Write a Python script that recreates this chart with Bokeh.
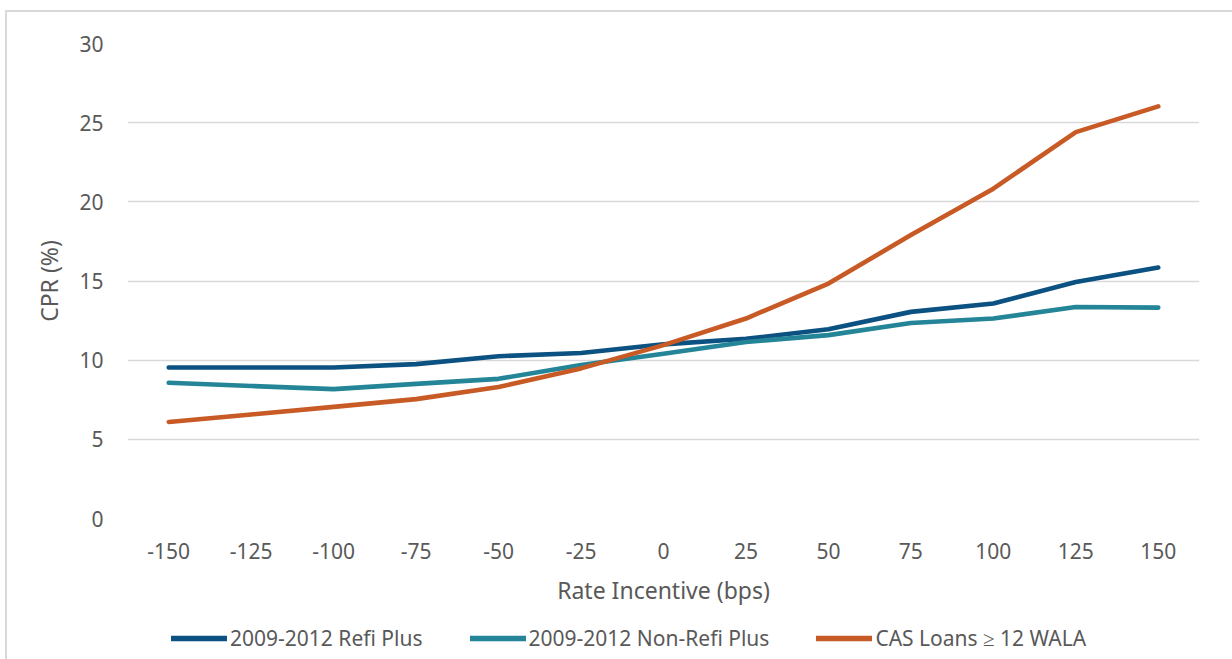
from bokeh.plotting import figure
from bokeh.layouts import column
from bokeh.models import FactorRange, Range1d, Legend, LegendItem, SingleIntervalTicker
from bokeh.embed import file_html
from bokeh.resources import INLINE

# Rate incentive buckets (bps)
incentive = ["-150", "-125", "-100", "-75", "-50", "-25", "0",
             "25", "50", "75", "100", "125", "150"]

# CPR (%) by rate incentive
refi_plus = [9.54, 9.54, 9.54, 9.75, 10.25, 10.45, 11.0, 11.35, 11.95, 13.05, 13.58, 14.94, 15.85]
non_refi_plus = [8.57, 8.37, 8.17, 8.5, 8.82, 9.7, 10.4, 11.15, 11.58, 12.35, 12.63, 13.36, 13.32]
cas_loans = [6.1, 6.57, 7.05, 7.54, 8.3, 9.48, 10.95, 12.63, 14.84, 17.9, 20.83, 24.4, 26.03]

series = [refi_plus, non_refi_plus, cas_loans]
series_names = ["2009-2012 Refi Plus", "2009-2012 Non-Refi Plus", "CAS Loans \u2265 12 WALA"]
series_colors = ["#0b5181", "#238597", "#c85a25"]

FONT = "Noto Sans"
TEXT = "#595959"
LINE_W = 4.6

p = figure(
    width=1225, height=600,
    x_range=FactorRange(*incentive, range_padding=0),
    y_range=Range1d(0, 30),
    output_backend="svg", toolbar_location=None,
    min_border_left=120, min_border_right=33,
    min_border_top=31, min_border_bottom=94,
)
p.outline_line_color = None
p.background_fill_color = "white"
p.border_fill_color = "white"

for vals, color in zip(series, series_colors):
    p.line(incentive, vals, line_color=color, line_width=LINE_W,
           line_cap="round", line_join="round")

# grid
p.xgrid.grid_line_color = None
p.ygrid.grid_line_color = "#d9d9d9"
p.ygrid.grid_line_width = 1.6
p.yaxis.ticker = SingleIntervalTicker(interval=5)

for ax in (p.xaxis[0], p.yaxis[0]):
    ax.axis_line_color = None
    ax.major_tick_line_color = None
    ax.minor_tick_line_color = None
    ax.major_label_text_font = FONT
    ax.major_label_text_font_size = "21px"
    ax.major_label_text_color = TEXT
    ax.axis_label_text_font = FONT
    ax.axis_label_text_font_size = "23px"
    ax.axis_label_text_font_style = "normal"
    ax.axis_label_text_color = TEXT

p.yaxis.axis_label = "CPR (%)"
p.yaxis.major_label_standoff = 18
p.yaxis.axis_label_standoff = 11
p.xaxis.axis_label = "Rate Incentive (bps)"
p.xaxis.major_label_standoff = 18
p.xaxis.axis_label_standoff = 12

# legend strip below the chart (its frame lines up with the chart frame)
leg = figure(
    width=1225, height=47,
    x_range=Range1d(0, 1), y_range=Range1d(0, 1),
    output_backend="svg", toolbar_location=None,
    min_border=0,
)
leg.axis.visible = False
leg.grid.visible = False
leg.outline_line_color = None
leg.border_fill_color = "white"

# one-point lines: nothing is drawn in the strip, only the legend keys
key_renderers = [leg.line(x=[0], y=[vals[0]], line_color=c, line_width=5.5, line_cap="round")
                 for vals, c in zip(series, series_colors)]
legend = Legend(
    items=[LegendItem(label=n, renderers=[r]) for n, r in zip(series_names, key_renderers)],
    orientation="horizontal",
    glyph_width=56, glyph_height=20,
    label_standoff=3, spacing=47, padding=0, margin=0,
    label_text_font=FONT, label_text_font_size="21px", label_text_color=TEXT,
    border_line_color=None, background_fill_alpha=0,
    location=(44, 7),
)
leg.add_layout(legend, "center")

layout = column(
    p, leg, spacing=0, margin=(10, 0, 0, 5),
    styles={"border-left": "2px solid #d9d9d9", "border-top": "2px solid #d9d9d9"},
)

open("out.html", "w").write(file_html(layout, INLINE))
